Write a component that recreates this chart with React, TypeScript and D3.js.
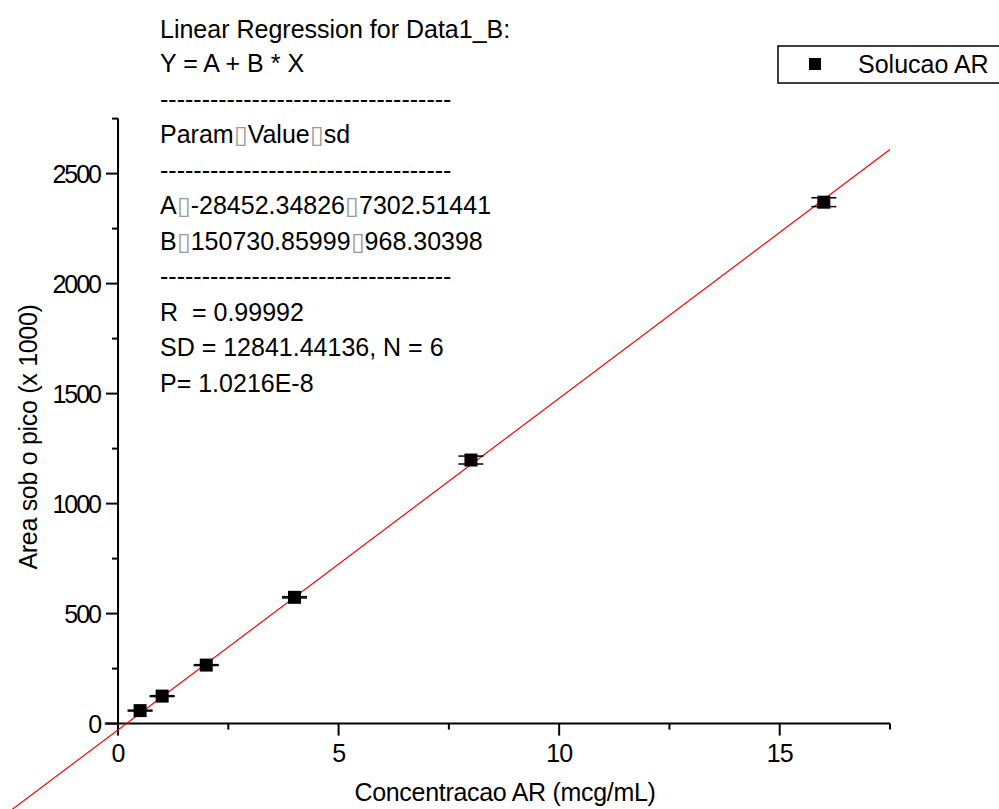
import React from "react";
import * as d3 from "d3";

const concentrations = [0.5, 1, 2, 4, 8, 16];
const areas = [59, 125, 266, 574, 1198, 2370];
const areaErrors = [2, 2, 2, 3, 18, 20];

const interceptA = -28.45234826;
const slopeB = 150.73085999;

const xMajorTicks = [0, 5, 10, 15];
const xMinorTicks = [2.5, 7.5, 12.5, 17.5];
const yMajorTicks = [0, 500, 1000, 1500, 2000, 2500];
const yMinorTicks = [250, 750, 1250, 1750, 2250, 2750];

const annotationLines = [
  "Linear Regression for Data1_B:",
  "Y = A + B * X",
  "-----------------------------------",
  "Param\u25AFValue\u25AFsd",
  "-----------------------------------",
  "A\u25AF-28452.34826\u25AF7302.51441",
  "B\u25AF150730.85999\u25AF968.30398",
  "-----------------------------------",
  "R  = 0.99992",
  "SD = 12841.44136, N = 6",
  "P= 1.0216E-8",
];

const seriesName = "Solucao AR";
const xTitle = "Concentracao AR (mcg/mL)";
const yTitle = "Area sob o pico (x 1000)";

const W = 999;
const H = 809;
const FONT = "'Liberation Sans', Arial, sans-serif";

function renderWithBoxes(s: string) {
  const parts = s.split("\u25AF");
  const out: React.ReactNode[] = [];
  parts.forEach((p, i) => {
    if (i > 0)
      out.push(
        <tspan key={"b" + i} fill="#9a9a9a">
          {"\u25AF"}
        </tspan>
      );
    out.push(<tspan key={"t" + i}>{p}</tspan>);
  });
  return out;
}

export default function App() {
  const x = d3.scaleLinear().domain([-0.3, 17.5]).range([104.8, 890]);
  const y = d3.scaleLinear().domain([-50, 2750]).range([734.6, 118.6]);

  const lineX = [-3, 17.5];
  const regLine = d3
    .line<number>()
    .x((d) => x(d))
    .y((d) => y(interceptA + slopeB * d))(lineX);

  const majorLen = 12;
  const minorLen = 6;

  return (
    <svg
      width={W}
      height={H}
      style={{ position: "absolute", left: 0, top: 0, background: "#fff" }}
      fontFamily={FONT}
    >
      <rect x={0} y={0} width={W} height={H} fill="#fff" />
      {/* Axes */}
      <line x1={x(-0.3)} x2={x(17.5)} y1={y(0)} y2={y(0)} stroke="#000" strokeWidth={2} />
      <line x1={x(0)} x2={x(0)} y1={y(-50)} y2={y(2750)} stroke="#000" strokeWidth={2} />
      {xMajorTicks.map((t) => (
        <g key={"xm" + t}>
          <line x1={x(t)} x2={x(t)} y1={y(0)} y2={y(0) + majorLen} stroke="#000" strokeWidth={2} />
          <text x={x(t)} y={y(0) + 38} fontSize={25} textAnchor="middle" letterSpacing={-1}>
            {t}
          </text>
        </g>
      ))}
      {xMinorTicks.map((t) => (
        <line key={"xn" + t} x1={x(t)} x2={x(t)} y1={y(0)} y2={y(0) + minorLen} stroke="#000" strokeWidth={2} />
      ))}
      {yMajorTicks.map((t) => (
        <g key={"ym" + t}>
          <line x1={x(0)} x2={x(0) - majorLen} y1={y(t)} y2={y(t)} stroke="#000" strokeWidth={2} />
          <text x={x(0) - 18} y={y(t) + 9} fontSize={25} textAnchor="end" letterSpacing={-2}>
            {t}
          </text>
        </g>
      ))}
      {yMinorTicks.map((t) => (
        <line key={"yn" + t} x1={x(0)} x2={x(0) - minorLen} y1={y(t)} y2={y(t)} stroke="#000" strokeWidth={2} />
      ))}

      {/* Axis titles */}
      <text x={505} y={801} fontSize={25} textAnchor="middle" letterSpacing={-0.3}>
        {xTitle}
      </text>
      <text
        transform={`translate(37, 437) rotate(-90)`}
        fontSize={25}
        textAnchor="middle"
        letterSpacing={-0.3}
      >
        {yTitle}
      </text>

      {/* Regression line */}
      <path d={regLine || ""} stroke="#ff0000" strokeWidth={1.2} fill="none" />

      {/* Data points with error bars */}
      {concentrations.map((c, i) => {
        const cx = x(c);
        const cy = y(areas[i]);
        const top = y(areas[i] + areaErrors[i]);
        const bot = y(areas[i] - areaErrors[i]);
        return (
          <g key={"p" + i}>
            <line x1={cx} x2={cx} y1={top} y2={bot} stroke="#000" strokeWidth={1.5} />
            <line x1={cx - 12.5} x2={cx + 12.5} y1={top} y2={top} stroke="#000" strokeWidth={1.5} />
            <line x1={cx - 12.5} x2={cx + 12.5} y1={bot} y2={bot} stroke="#000" strokeWidth={1.5} />
            <rect x={cx - 6.5} y={cy - 6.5} width={13} height={13} fill="#000" />
          </g>
        );
      })}

      {/* Annotation */}
      {annotationLines.map((s, i) => (
        <text
          key={"a" + i}
          x={160}
          y={i === 0 ? 38 : 72 + (i - 1) * 35.5}
          fontSize={25}
          style={{ whiteSpace: "pre" }}
        >
          {renderWithBoxes(s)}
        </text>
      ))}

      {/* Legend */}
      <rect x={778} y={46} width={240} height={37} fill="none" stroke="#000" strokeWidth={1.5} />
      <rect x={809} y={58} width={12} height={12} fill="#000" />
      <text x={858} y={73} fontSize={25}>
        {seriesName}
      </text>
    </svg>
  );
}
